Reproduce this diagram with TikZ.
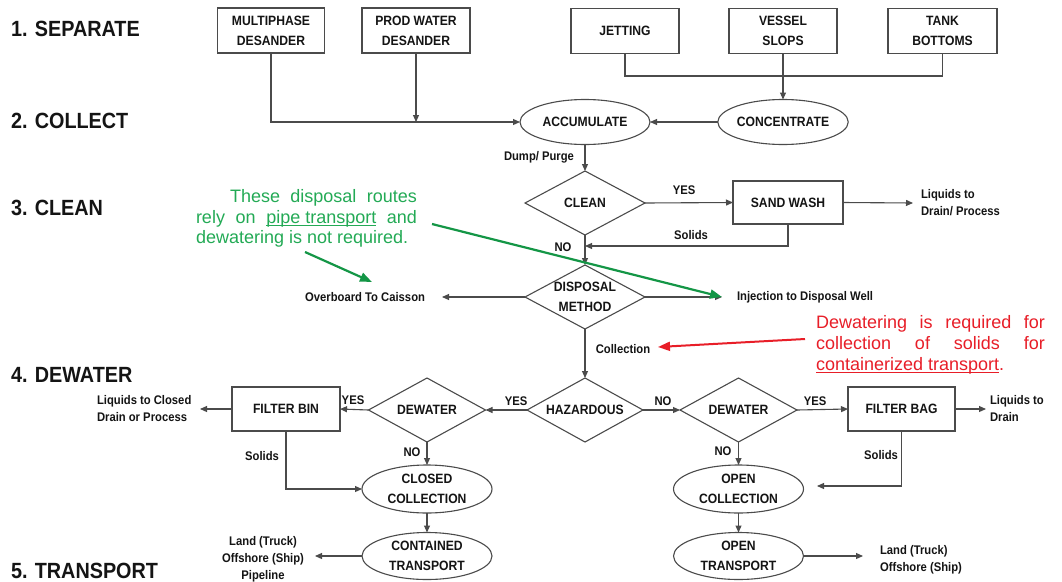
\documentclass[tikz,border=0pt]{standalone}
\usepackage{fontspec}
\setmainfont{Liberation Sans}
\newfontfamily\nb[FakeStretch=0.9]{Liberation Sans}
\usetikzlibrary{shapes.geometric,arrows.meta}
\definecolor{ln}{RGB}{75,75,75}
\definecolor{tx}{RGB}{20,20,20}
\definecolor{gtxt}{RGB}{35,170,85}
\definecolor{garrow}{RGB}{20,150,70}
\definecolor{rtxt}{RGB}{232,30,40}
\newcommand\myNodeFont{\nb\bfseries\fontsize{13.5}{20}\selectfont}
\newcommand\myLblFont{\nb\bfseries\fontsize{12.5}{17}\selectfont}
\newcommand\myStageFont{\nb\bfseries\fontsize{22}{26}\selectfont}
\newcommand\myul[1]{\setbox0\hbox{#1}\rlap{\rule[-2.6pt]{\wd0}{1.1pt}}\box0\relax}
\begin{document}
\begin{tikzpicture}[x=1pt,y=-1pt,
  every node/.style={inner sep=0pt, outer sep=0pt, text=tx},
  bx/.style={draw=ln, line width=1.1pt, rectangle, align=center, font=\myNodeFont, minimum width=#1, minimum height=45},
  bx/.default=108,
  dia/.style={draw=ln, line width=1.1pt, diamond, minimum width=#1, minimum height=64},
  dia/.default=118,
  ell/.style={draw=ln, line width=1.1pt, ellipse, minimum width=130, minimum height=#1, align=center, font=\myNodeFont},
  ell/.default=46,
  ntxt/.style={align=center, font=\myNodeFont},
  lbl/.style={font=\myLblFont},
  stage/.style={font=\myStageFont, anchor=base west},
  arr/.style={draw=ln, line width=1.1pt, -{Triangle[length=7pt,width=6pt]}},
  plain/.style={draw=ln, line width=1.1pt},
  gtx/.style={font=\fontsize{18}{21}\selectfont, text=gtxt, anchor=base west},
  rtx/.style={font=\fontsize{18}{21}\selectfont, text=rtxt, anchor=base west},
  garr/.style={draw=garrow, line width=2.2pt, -{Triangle[length=12pt,width=9pt]}},
  rarr/.style={draw=rtxt, line width=2pt, -{Triangle[length=12pt,width=9pt]}}
]
\fill[white] (0,0) rectangle (1062,581);
\useasboundingbox (0,0) rectangle (1062,581);

% stage labels
\node[stage] (s1) at (11,36) {1. SEPARATE};
\node[stage] (s2) at (11,128) {2. COLLECT};
\node[stage] (s3) at (11,215) {3. CLEAN};
\node[stage] (s4) at (11,382) {4. DEWATER};
\node[stage] (s5) at (11,578) {5. TRANSPORT};

% top row
\node[bx=107] (mp) at (271,30.5) {MULTIPHASE\\DESANDER};
\node[bx=108] (pw) at (416,30.5) {PROD WATER\\DESANDER};
\node[bx=108] (jet) at (625,31) {JETTING};
\node[bx=108] (ves) at (783,31) {VESSEL\\SLOPS};
\node[bx=109] (tank) at (942.5,31) {TANK\\BOTTOMS};

% collect
\node[ell=45] (acc) at (585,122) {ACCUMULATE};
\node[ell=45] (conc) at (783,122) {CONCENTRATE};

% clean
\node[dia=120] (clean) at (585,203) {};
\node[ntxt] (cleant) at (clean) {CLEAN};
\node[bx=110, minimum height=43] (sand) at (788,202.5) {SAND WASH};

% disposal
\node[dia=120] (disp) at (585,297) {};
\node[ntxt] (dispt) at (disp) {DISPOSAL\\METHOD};

% dewater
\node[dia=116] (haz) at (585,410) {};
\node[ntxt] (hazt) at (haz) {HAZARDOUS};
\node[dia=117] (dwR) at (738.5,410) {};
\node[ntxt] (dwRt) at (dwR) {DEWATER};
\node[dia=117] (dwL) at (427,410) {};
\node[ntxt] (dwLt) at (dwL) {DEWATER};
\node[bx=107, minimum height=44] (bag) at (901.5,409) {FILTER BAG};
\node[bx=108, minimum height=44] (bin) at (286,409) {FILTER BIN};

% collection / transport
\node[ell=48] (cc) at (427,489) {CLOSED\\COLLECTION};
\node[ell=47] (ct) at (427,556) {CONTAINED\\TRANSPORT};
\node[ell=48] (oc) at (738.5,489) {OPEN\\COLLECTION};
\node[ell=47] (ot) at (738.5,556) {OPEN\\TRANSPORT};

% coordinates for free ends
\coordinate (jt) at (625,76);
\coordinate (sandout) at (913,203);
\coordinate (solj) at (585,246);
\coordinate (ovb) at (442,297);
\coordinate (inj) at (722,297);
\coordinate (bagout) at (986,409);
\coordinate (bagsol) at (817,486);
\coordinate (otout) at (863,556);
\coordinate (binout) at (200,409);
\coordinate (ctout) at (315,556);

% connectors
\draw[arr] (mp.south) |- (acc.west);
\draw[arr] (pw.south) -- (pw.south |- acc.west);
\draw[plain] (jet.south) -- (jt) -| (tank.south);
\draw[arr] (ves.south) -- (conc.north);
\draw[arr] (conc.west) -- (acc.east);
\draw[arr] (acc.south) -- (clean.north);
\draw[arr] (clean.east) -- (sand.west);
\draw[arr] (sand.east) -- (sandout);
\draw[arr] (sand.south) |- (solj);
\draw[arr] (clean.south) -- (disp.north);
\draw[arr] (disp.west) -- (ovb);
\draw[arr] (disp.east) -- (inj);
\draw[arr] (disp.south) -- (haz.north);
\draw[arr] (haz.east) -- (dwR.west);
\draw[arr] (dwR.east) -- (bag.west);
\draw[arr] (bag.east) -- (bagout);
\draw[arr] (bag.south) |- (bagsol);
\draw[arr] (dwR.south) -- (oc.north);
\draw[arr] (oc.south) -- (ot.north);
\draw[arr] (ot.east) -- (otout);
\draw[arr] (haz.west) -- (dwL.east);
\draw[arr] (dwL.west) -- (bin.east);
\draw[arr] (bin.west) -- (binout);
\draw[arr] (bin.south) |- (cc.west);
\draw[arr] (dwL.south) -- (cc.north);
\draw[arr] (cc.south) -- (ct.north);
\draw[arr] (ct.west) -- (ctout);

% labels
\node[lbl, anchor=east] (dump) at (574,157) {Dump/ Purge};
\node[lbl] (yes1) at (684,190) {YES};
\node[lbl, align=left, anchor=west] (liq1) at (921,203) {Liquids to\\Drain/ Process};
\node[lbl] (sol1) at (691,235) {Solids};
\node[lbl] (no1) at (563,247) {NO};
\node[lbl, anchor=east] (ovbt) at (425,297) {Overboard To Caisson};
\node[lbl, anchor=west] (injt) at (737,297) {Injection to Disposal Well};
\node[lbl] (colt) at (623,349) {Collection};
\node[lbl] (yes2) at (516,401) {YES};
\node[lbl] (no2) at (663,401) {NO};
\node[lbl] (yes3) at (815,401) {YES};
\node[lbl] (yes4) at (353,400) {YES};
\node[lbl, align=left, anchor=west] (liq2) at (990,409) {Liquids to\\Drain};
\node[lbl, align=left, anchor=west] (liq3) at (97,409) {Liquids to Closed\\Drain or Process};
\node[lbl] (sol2) at (262,456) {Solids};
\node[lbl] (sol3) at (881,455) {Solids};
\node[lbl] (no3) at (412,452) {NO};
\node[lbl] (no4) at (723,451) {NO};
\node[lbl, align=center] (land1) at (263,559) {Land (Truck)\\Offshore (Ship)\\Pipeline};
\node[lbl, align=left, anchor=west] (land2) at (880,560) {Land (Truck)\\Offshore (Ship)};

% green annotation
\node[gtx] (g1) at (230,202) {\makebox[187pt][s]{These disposal routes}};
\node[gtx] (g2) at (196,223) {\makebox[221pt][s]{rely on \myul{pipe transport} and}};
\node[gtx] (g3) at (196,243) {dewatering is not required.};
\coordinate (ga1s) at (305,252);
\coordinate (ga1e) at (372,282);
\coordinate (ga2s) at (432,224);
\coordinate (ga2e) at (722,297);
\draw[garr] (ga1s) -- (ga1e);
\draw[garr] (ga2s) -- (ga2e);

% red annotation
\node[rtx] (r1) at (816,328) {\makebox[229pt][s]{Dewatering is required for}};
\node[rtx] (r2) at (816,349) {\makebox[229pt][s]{collection of solids for}};
\node[rtx] (r3) at (816,370) {\myul{containerized transport}.};
\coordinate (ras) at (805,339);
\coordinate (rae) at (658,347);
\draw[rarr] (ras) -- (rae);
\end{tikzpicture}
\end{document}
